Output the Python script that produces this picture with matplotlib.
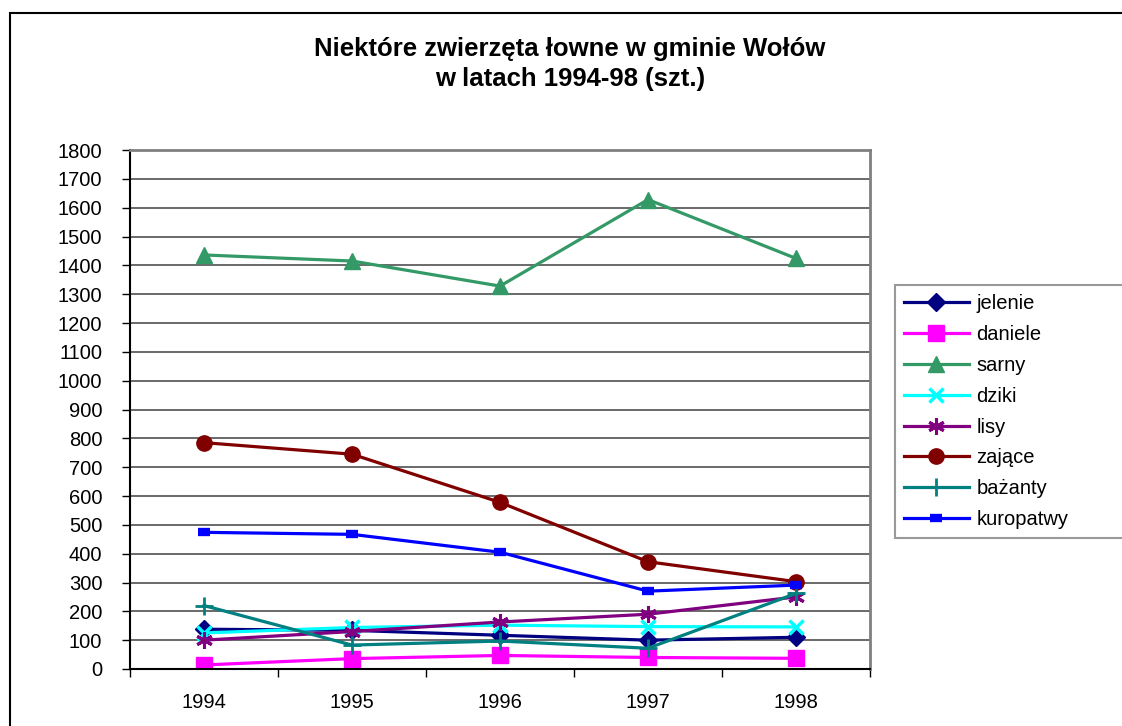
import matplotlib
matplotlib.use("Agg")
import matplotlib.pyplot as plt
from matplotlib.patches import Rectangle

plt.rcParams['font.family'] = ['Liberation Sans', 'DejaVu Sans']

years = ["1994", "1995", "1996", "1997", "1998"]
series_names = ["jelenie", "daniele", "sarny", "dziki", "lisy", "zające", "bażanty", "kuropatwy"]
jelenie = [138, 134, 117, 100, 110]
daniele = [14, 36, 47, 40, 37]
sarny = [1436, 1415, 1328, 1628, 1424]
dziki = [125, 144, 152, 147, 146]
lisy = [100, 130, 163, 190, 250]
zajace = [785, 745, 578, 372, 303]
bazanty = [220, 83, 97, 72, 262]
kuropatwy = [474, 467, 405, 270, 291]
yticks = list(range(0, 1801, 100))
title = "Niektóre zwierzęta łowne w gminie Wołów\nw latach 1994-98 (szt.)"

values = [jelenie, daniele, sarny, dziki, lisy, zajace, bazanty, kuropatwy]
styles = [
    dict(color="#000080", marker="D", ms=9),
    dict(color="#FF00FF", marker="s", ms=11),
    dict(color="#339966", marker="^", ms=11),
    dict(color="#00FFFF", marker="x", ms=10, mew=2.5),
    dict(color="#800080", marker=(6, 2, 0), ms=12, mew=2.2),
    dict(color="#800000", marker="o", ms=11),
    dict(color="#008080", marker="+", ms=13, mew=2),
    dict(color="#0000FF", marker="_", ms=9, mew=6),
]

fig = plt.figure(figsize=(11.22, 7.26), dpi=100)
W, H = 1122, 726
# outer chart border
fig.patches.append(Rectangle((9.5 / W, -0.1), 1.2, 1 - 12.5 / H + 0.1,
                             transform=fig.transFigure, fill=False,
                             edgecolor="black", lw=1.5))

ax = fig.add_axes([130 / W, 1 - 669 / H, 740 / W, 519 / H])
x = list(range(len(years)))
for name, vals, st in zip(series_names, values, styles):
    ax.plot(x, vals, lw=2.3, label=name, mec=st["color"], mfc=st["color"], **st)

ax.set_xlim(-0.5, len(years) - 0.5)
ax.set_ylim(0, 1800)
ax.set_yticks(yticks)
ax.set_yticklabels([str(v) for v in yticks], fontsize=14.5)
ax.set_xticks(x)
ax.set_xticklabels(years, fontsize=14.5)
ax.set_xticks([i - 0.5 for i in range(len(years) + 1)], minor=True)
ax.tick_params(axis="x", which="major", length=0, pad=17)
ax.tick_params(axis="x", which="minor", length=6, width=1, direction="out", color="black")
ax.tick_params(axis="y", length=6, width=1, direction="out", pad=14, color="black")
ax.yaxis.grid(True, color="#505050", lw=1.2)
ax.set_axisbelow(True)
for s in ["left", "bottom"]:
    ax.spines[s].set_color("black")
    ax.spines[s].set_linewidth(1.5)
for s in ["top", "right"]:
    ax.spines[s].set_color("#808080")
    ax.spines[s].set_linewidth(2)

fig.text(570 / W, 1 - 64 / H, title, ha="center", va="center", fontsize=18.5,
         fontweight="bold", linespacing=1.35)

leg = fig.legend(loc="upper left",
                 bbox_to_anchor=(895 / W, 1 - 532 / H, 235 / W, 247 / H),
                 mode="expand",
                 fontsize=14.5, handlelength=3.2, handletextpad=0.4,
                 labelspacing=0.59, borderpad=0.45, fancybox=False,
                 frameon=True, borderaxespad=0)
leg.get_frame().set_edgecolor("#808080")
leg.get_frame().set_linewidth(1.5)

fig.savefig("out.png", dpi=100)
